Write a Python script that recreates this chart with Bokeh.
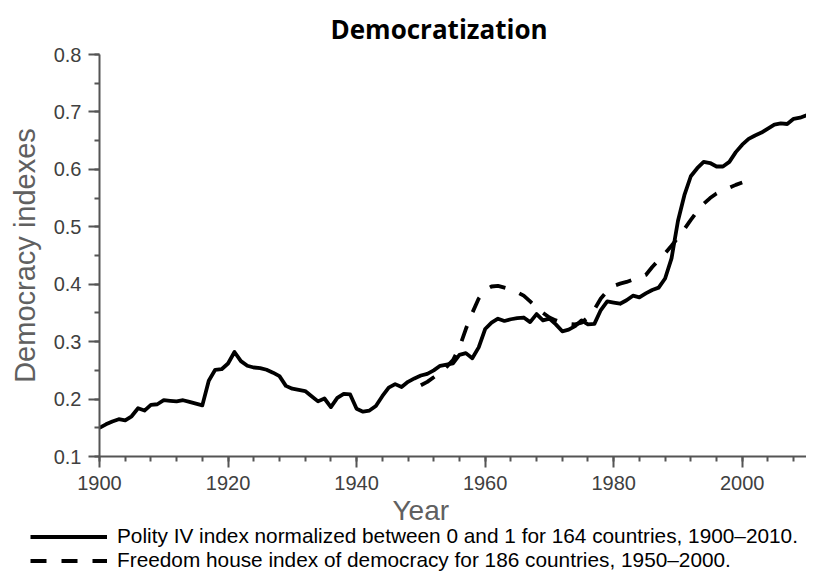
from bokeh.plotting import figure
from bokeh.layouts import column
from bokeh.models import Range1d, FixedTicker, Legend, LegendItem, Title
from bokeh.embed import file_html
from bokeh.resources import INLINE

# ---- data ----
polity_years = list(range(1900, 2011))
polity_values = [
    0.150, 0.156, 0.161, 0.165, 0.163, 0.170, 0.184, 0.180, 0.190, 0.191,
    0.198, 0.197, 0.196, 0.198, 0.195, 0.192, 0.189, 0.232, 0.251, 0.252,
    0.262, 0.282, 0.266, 0.258, 0.255, 0.254, 0.251, 0.246, 0.240, 0.223,
    0.218, 0.216, 0.214, 0.205, 0.196, 0.201, 0.186, 0.202, 0.209, 0.208,
    0.183, 0.178, 0.180, 0.188, 0.205, 0.220, 0.226, 0.221, 0.230, 0.236,
    0.241, 0.244, 0.250, 0.258, 0.260, 0.262, 0.277, 0.280, 0.271, 0.290,
    0.322, 0.333, 0.340, 0.336, 0.339, 0.341, 0.342, 0.334, 0.348, 0.337,
    0.340, 0.330, 0.318, 0.321, 0.327, 0.337, 0.330, 0.331, 0.355, 0.370,
    0.368, 0.366, 0.372, 0.380, 0.377, 0.384, 0.390, 0.394, 0.410, 0.445,
    0.510, 0.555, 0.588, 0.602, 0.613, 0.611, 0.605, 0.605, 0.613, 0.630,
    0.643, 0.653, 0.659, 0.664, 0.671, 0.678, 0.680, 0.679, 0.688, 0.690,
    0.694,
]

fh_years = list(range(1950, 2001))
fh_values = [
    0.224, 0.230, 0.238, 0.246, 0.256, 0.268, 0.290, 0.322, 0.350, 0.375,
    0.390, 0.396, 0.397, 0.394, 0.391, 0.386, 0.380, 0.370, 0.360, 0.350,
    0.342, 0.337, 0.333, 0.331, 0.330, 0.333, 0.342, 0.356, 0.375, 0.388,
    0.397, 0.401, 0.404, 0.408, 0.412, 0.416, 0.430, 0.442, 0.454, 0.467,
    0.481, 0.496, 0.512, 0.527, 0.540, 0.550, 0.558, 0.563, 0.568, 0.573,
    0.577,
]

x_major = [1900, 1920, 1940, 1960, 1980, 2000]
x_minor = list(range(1900, 2011, 4))
y_major = [0.1, 0.2, 0.3, 0.4, 0.5, 0.6, 0.7, 0.8]
y_minor = [0.1, 0.15, 0.2, 0.25, 0.3, 0.35, 0.4, 0.45, 0.5, 0.55, 0.6, 0.65, 0.7, 0.75, 0.8]

title_text = "Democratization"
x_label = "Year"
y_label = "Democracy indexes"
polity_label = "Polity IV index normalized between 0 and 1 for 164 countries, 1900\u20132010."
fh_label = "Freedom house index of democracy for 186 countries, 1950\u20132000."

AXIS_COLOR = "#555555"
LABEL_COLOR = "#606060"
FONT = "Liberation Sans"
LINE_W = 3.8
DASH = "16 15"

# ---------------- main chart ----------------
p = figure(
    width=806, height=525,
    x_range=Range1d(1900, 2010), y_range=Range1d(0.1, 0.8),
    output_backend="svg", toolbar_location=None,
    min_border_left=99, min_border_right=0,
    min_border_top=51, min_border_bottom=10,
)
p.outline_line_color = None
p.grid.visible = False
p.background_fill_color = "white"
p.border_fill_color = "white"

p.add_layout(Title(text=title_text, align="left", offset=231,
                   text_font="Open Sans", text_font_style="bold",
                   text_font_size="26px", text_color="black", standoff=16),
             "above")

for ax in (p.xaxis[0], p.yaxis[0]):
    ax.axis_line_color = AXIS_COLOR
    ax.axis_line_width = 2
    ax.major_tick_line_color = AXIS_COLOR
    ax.major_tick_line_width = 2
    ax.minor_tick_line_color = AXIS_COLOR
    ax.minor_tick_line_width = 2
    ax.major_tick_in = 0
    ax.major_tick_out = 11
    ax.minor_tick_in = 0
    ax.minor_tick_out = 5
    ax.major_label_text_font = FONT
    ax.major_label_text_font_size = "20px"
    ax.major_label_text_color = "#404040"
    ax.axis_label_text_font = FONT
    ax.axis_label_text_font_size = "29px"
    ax.axis_label_text_font_style = "normal"
    ax.axis_label_text_color = LABEL_COLOR

p.xaxis[0].ticker = FixedTicker(ticks=x_major, minor_ticks=x_minor)
p.yaxis[0].ticker = FixedTicker(ticks=y_major, minor_ticks=y_minor)
p.yaxis[0].axis_label = y_label
p.xaxis[0].major_label_standoff = 8
p.yaxis[0].major_label_standoff = 7
p.yaxis[0].axis_label_standoff = 10

p.add_layout(Title(text=x_label, align="left", offset=293,
                   text_font=FONT, text_font_style="normal",
                   text_font_size="28px", text_color=LABEL_COLOR, standoff=0),
             "below")

p.line(polity_years, polity_values, line_color="black", line_width=LINE_W,
       line_join="round")
p.line(fh_years, fh_values, line_color="black", line_width=LINE_W,
       line_dash=DASH)

# ---------------- legend strip ----------------
# the strip's own ranges keep its copies of the series out of view;
# they only serve as the legend's keys
lg = figure(
    width=806, height=47,
    x_range=Range1d(0, 1), y_range=Range1d(0, 1),
    x_axis_type=None, y_axis_type=None,
    output_backend="svg", toolbar_location=None,
    min_border=0,
)
lg.outline_line_color = None
lg.grid.visible = False
lg.border_fill_color = "white"
lg.background_fill_color = "white"
for fig in (p, lg):
    if hasattr(fig, "frame_align"):
        fig.frame_align = False

k_polity = lg.line(polity_years, polity_values, line_color="black", line_width=LINE_W)
k_fh = lg.line(fh_years, fh_values, line_color="black", line_width=LINE_W, line_dash=DASH)

legend = Legend(
    items=[LegendItem(label=polity_label, renderers=[k_polity]),
           LegendItem(label=fh_label, renderers=[k_fh])],
    location=(30, 0),
    orientation="vertical",
    border_line_color=None,
    background_fill_alpha=0,
    padding=0, margin=0, spacing=0,
    glyph_width=77, glyph_height=23, label_height=23,
    label_standoff=10,
    label_text_font=FONT, label_text_font_size="20.8px",
    label_text_color="black",
)
lg.add_layout(legend, "center")

layout = column(p, lg, spacing=0)
open("out.html", "w").write(file_html(layout, INLINE))
